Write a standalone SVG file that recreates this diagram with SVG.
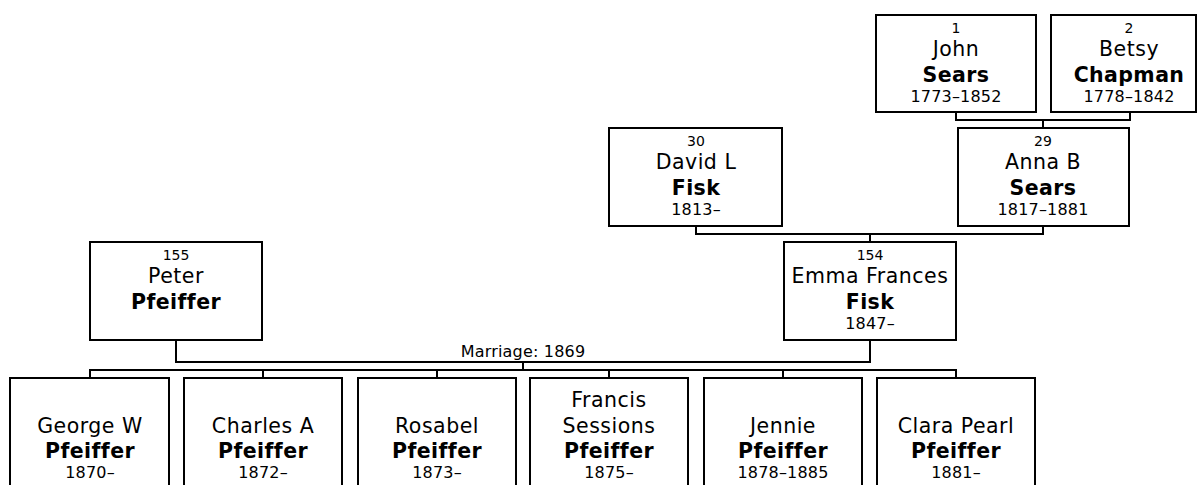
<svg xmlns="http://www.w3.org/2000/svg" width="1199" height="485" viewBox="0 0 1199 485">
<style>
.box{fill:#fff;stroke:#000;stroke-width:2}
.ln{fill:none;stroke:#000;stroke-width:2}
text{font-family:"DejaVu Sans",Verdana,sans-serif;text-anchor:middle;fill:#000}
.num{font-size:14px}
.nm{font-size:20.5px;letter-spacing:0.5px}
.sn{font-size:20.5px;font-weight:bold;letter-spacing:0.4px}
.dt{font-size:16px;letter-spacing:0.2px}
.mr{font-size:16px;letter-spacing:0.2px}
</style>
<rect width="1199" height="485" fill="#fff"/>
<g id="connectors">
<polyline class="ln" points="956,113 956,120 1130,120 1130,113"/>
<line class="ln" x1="1043" y1="120" x2="1043" y2="127"/>
<polyline class="ln" points="696,227 696,234 1043,234 1043,227"/>
<line class="ln" x1="870" y1="234" x2="870" y2="241"/>
<polyline class="ln" points="176,341 176,362 870,362 870,341"/>
<line class="ln" x1="523" y1="362" x2="523" y2="370"/>
<polyline class="ln" points="90,377 90,370 956,370 956,377"/>
<line class="ln" x1="263" y1="370" x2="263" y2="377"/>
<line class="ln" x1="437" y1="370" x2="437" y2="377"/>
<line class="ln" x1="609" y1="370" x2="609" y2="377"/>
<line class="ln" x1="783" y1="370" x2="783" y2="377"/>
<text class="mr" x="523" y="357">Marriage: 1869</text>
</g>
<g id="p1">
<rect class="box" x="876" y="15" width="160" height="97"/>
<text class="num" x="956" y="33">1</text>
<text class="nm" x="956" y="56">John</text>
<text class="sn" x="956" y="82">Sears</text>
<text class="dt" x="956" y="102">1773–1852</text>
</g>
<g id="p2">
<rect class="box" x="1051" y="15" width="145" height="97"/>
<text class="num" x="1129" y="33">2</text>
<text class="nm" x="1129" y="56">Betsy</text>
<text class="sn" x="1129" y="82">Chapman</text>
<text class="dt" x="1129" y="102">1778–1842</text>
</g>
<g id="p29">
<rect class="box" x="958" y="128" width="171" height="98"/>
<text class="num" x="1043" y="146">29</text>
<text class="nm" x="1043" y="169">Anna B</text>
<text class="sn" x="1043" y="195">Sears</text>
<text class="dt" x="1043" y="215">1817–1881</text>
</g>
<g id="p30">
<rect class="box" x="609" y="128" width="173" height="98"/>
<text class="num" x="696" y="146">30</text>
<text class="nm" x="696" y="169">David L</text>
<text class="sn" x="696" y="195">Fisk</text>
<text class="dt" x="696" y="215">1813–</text>
</g>
<g id="p154">
<rect class="box" x="784" y="242" width="172" height="98"/>
<text class="num" x="870" y="260">154</text>
<text class="nm" x="870" y="283">Emma Frances</text>
<text class="sn" x="870" y="309">Fisk</text>
<text class="dt" x="870" y="329">1847–</text>
</g>
<g id="p155">
<rect class="box" x="90" y="242" width="172" height="98"/>
<text class="num" x="176" y="260">155</text>
<text class="nm" x="176" y="283">Peter</text>
<text class="sn" x="176" y="309">Pfeiffer</text>
</g>
<g id="c1">
<rect class="box" x="10" y="378" width="159" height="120"/>
<text class="nm" x="90" y="433">George W</text>
<text class="sn" x="90" y="458">Pfeiffer</text>
<text class="dt" x="90" y="478">1870–</text>
</g>
<g id="c2">
<rect class="box" x="184" y="378" width="158" height="120"/>
<text class="nm" x="263" y="433">Charles A</text>
<text class="sn" x="263" y="458">Pfeiffer</text>
<text class="dt" x="263" y="478">1872–</text>
</g>
<g id="c3">
<rect class="box" x="358" y="378" width="158" height="120"/>
<text class="nm" x="437" y="433">Rosabel</text>
<text class="sn" x="437" y="458">Pfeiffer</text>
<text class="dt" x="437" y="478">1873–</text>
</g>
<g id="c4">
<rect class="box" x="530" y="378" width="158" height="120"/>
<text class="nm" x="609" y="407">Francis</text>
<text class="nm" x="609" y="433">Sessions</text>
<text class="sn" x="609" y="458">Pfeiffer</text>
<text class="dt" x="609" y="478">1875–</text>
</g>
<g id="c5">
<rect class="box" x="704" y="378" width="158" height="120"/>
<text class="nm" x="783" y="433">Jennie</text>
<text class="sn" x="783" y="458">Pfeiffer</text>
<text class="dt" x="783" y="478">1878–1885</text>
</g>
<g id="c6">
<rect class="box" x="877" y="378" width="158" height="120"/>
<text class="nm" x="956" y="433">Clara Pearl</text>
<text class="sn" x="956" y="458">Pfeiffer</text>
<text class="dt" x="956" y="478">1881–</text>
</g>
</svg>
